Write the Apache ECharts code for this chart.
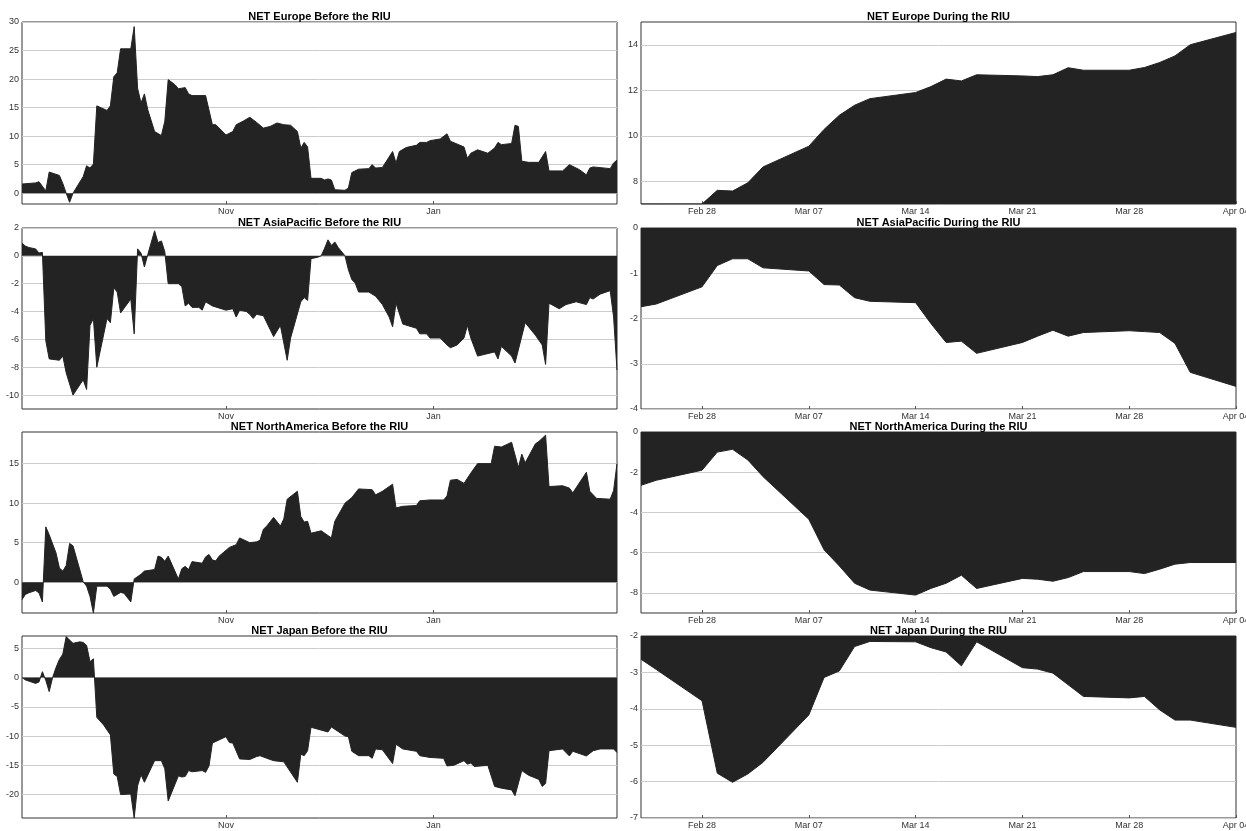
<!DOCTYPE html>
<html><head><meta charset="utf-8">
<script src="https://cdn.jsdelivr.net/npm/echarts@6/dist/echarts.min.js"></script>
<style>html,body{margin:0;padding:0;background:#fff}#c{width:1246px;height:831px}</style>
</head><body><div id="c"></div>
<script>
// ---------- data ----------
const beforeRange = ['2021-09-02', '2022-02-24'];
const duringRange = ['2022-02-24', '2022-04-04'];
const beforeTickDates = ['2021-11-01', '2022-01-01'];
const beforeTickLabels = ['Nov', 'Jan'];
const duringTickDates = ['2022-02-28','2022-03-07','2022-03-14','2022-03-21','2022-03-28','2022-04-04'];
const duringTickLabels = ['Feb 28','Mar 07','Mar 14','Mar 21','Mar 28','Apr 04'];

const europeBefore = [['2021-09-02',1.6],['2021-09-06',1.8],['2021-09-07',2.0],['2021-09-08',1.2],['2021-09-09',0.4],['2021-09-10',3.7],['2021-09-13',3.1],['2021-09-14',1.7],['2021-09-15',0.0],['2021-09-16',-1.6],['2021-09-17',0.0],['2021-09-20',2.9],['2021-09-21',4.8],['2021-09-22',4.4],['2021-09-23',5.1],['2021-09-24',15.3],['2021-09-27',14.5],['2021-09-28',15.3],['2021-09-29',20.4],['2021-09-30',21.1],['2021-10-01',25.3],['2021-10-04',25.3],['2021-10-05',29.2],['2021-10-06',18.4],['2021-10-07',15.8],['2021-10-08',17.4],['2021-10-09',14.6],['2021-10-11',10.8],['2021-10-13',10.1],['2021-10-14',12.6],['2021-10-15',19.9],['2021-10-17',19.0],['2021-10-18',18.3],['2021-10-19',18.4],['2021-10-20',18.5],['2021-10-21',17.4],['2021-10-22',17.1],['2021-10-26',17.1],['2021-10-28',12.0],['2021-10-29',12.0],['2021-11-01',10.2],['2021-11-02',10.5],['2021-11-03',10.8],['2021-11-04',12.0],['2021-11-06',12.6],['2021-11-08',13.3],['2021-11-10',12.4],['2021-11-12',11.4],['2021-11-14',11.7],['2021-11-16',12.3],['2021-11-18',12.0],['2021-11-20',11.9],['2021-11-22',10.8],['2021-11-23',7.9],['2021-11-24',8.9],['2021-11-25',8.1],['2021-11-26',2.6],['2021-11-29',2.6],['2021-11-30',2.3],['2021-12-01',2.5],['2021-12-02',2.3],['2021-12-03',0.6],['2021-12-06',0.5],['2021-12-07',0.9],['2021-12-08',3.6],['2021-12-10',4.2],['2021-12-13',4.3],['2021-12-14',5.0],['2021-12-15',4.4],['2021-12-17',4.5],['2021-12-20',7.3],['2021-12-21',5.3],['2021-12-22',7.3],['2021-12-24',8.0],['2021-12-27',8.4],['2021-12-28',8.9],['2021-12-30',8.9],['2021-12-31',9.2],['2022-01-03',9.5],['2022-01-05',10.4],['2022-01-06',9.1],['2022-01-10',8.1],['2022-01-11',6.1],['2022-01-12',7.0],['2022-01-14',7.6],['2022-01-17',7.0],['2022-01-19',7.9],['2022-01-20',8.9],['2022-01-21',8.5],['2022-01-24',8.7],['2022-01-25',11.9],['2022-01-26',11.7],['2022-01-27',5.6],['2022-01-29',5.4],['2022-02-01',5.4],['2022-02-03',7.3],['2022-02-04',3.9],['2022-02-08',3.9],['2022-02-10',5.0],['2022-02-13',4.1],['2022-02-15',3.2],['2022-02-16',4.4],['2022-02-17',4.6],['2022-02-22',4.3],['2022-02-23',5.3],['2022-02-24',5.8]];

const asiaBefore = [['2021-09-02',0.9],['2021-09-03',0.7],['2021-09-04',0.6],['2021-09-06',0.5],['2021-09-07',0.2],['2021-09-08',0.25],['2021-09-09',-6.1],['2021-09-10',-7.4],['2021-09-13',-7.5],['2021-09-14',-7.2],['2021-09-15',-8.4],['2021-09-17',-10.0],['2021-09-20',-8.9],['2021-09-21',-9.6],['2021-09-22',-5.0],['2021-09-23',-4.5],['2021-09-24',-8.0],['2021-09-27',-4.5],['2021-09-28',-4.8],['2021-09-29',-2.3],['2021-09-30',-2.6],['2021-10-01',-4.1],['2021-10-04',-3.1],['2021-10-05',-5.6],['2021-10-06',0.5],['2021-10-07',0.2],['2021-10-08',-0.8],['2021-10-09',0.1],['2021-10-11',1.8],['2021-10-12',0.95],['2021-10-13',1.07],['2021-10-14',0.3],['2021-10-15',-2.0],['2021-10-18',-2.0],['2021-10-19',-2.2],['2021-10-20',-3.6],['2021-10-21',-3.4],['2021-10-22',-3.7],['2021-10-24',-3.7],['2021-10-25',-3.9],['2021-10-26',-3.3],['2021-10-28',-3.6],['2021-11-01',-3.9],['2021-11-03',-3.8],['2021-11-04',-4.4],['2021-11-05',-3.9],['2021-11-07',-4.0],['2021-11-08',-4.2],['2021-11-09',-4.5],['2021-11-10',-4.2],['2021-11-12',-4.3],['2021-11-15',-5.8],['2021-11-17',-5.0],['2021-11-19',-7.5],['2021-11-20',-5.9],['2021-11-23',-3.3],['2021-11-24',-3.0],['2021-11-25',-3.2],['2021-11-26',-0.2],['2021-11-28',-0.1],['2021-11-29',0.0],['2021-11-30',0.55],['2021-12-01',1.15],['2021-12-02',0.75],['2021-12-03',1.0],['2021-12-04',0.6],['2021-12-06',0.0],['2021-12-07',-1.0],['2021-12-08',-1.7],['2021-12-09',-1.95],['2021-12-10',-2.6],['2021-12-13',-2.6],['2021-12-15',-2.9],['2021-12-17',-3.5],['2021-12-19',-4.4],['2021-12-20',-5.1],['2021-12-21',-3.4],['2021-12-23',-4.9],['2021-12-27',-5.2],['2021-12-28',-5.6],['2021-12-30',-5.6],['2021-12-31',-5.9],['2022-01-03',-5.9],['2022-01-05',-6.4],['2022-01-06',-6.6],['2022-01-08',-6.4],['2022-01-10',-5.9],['2022-01-11',-5.0],['2022-01-12',-5.9],['2022-01-14',-7.2],['2022-01-19',-6.9],['2022-01-20',-7.4],['2022-01-21',-6.5],['2022-01-24',-7.2],['2022-01-25',-7.7],['2022-01-28',-4.8],['2022-01-31',-5.7],['2022-02-02',-6.4],['2022-02-03',-7.8],['2022-02-04',-3.4],['2022-02-07',-3.8],['2022-02-09',-3.5],['2022-02-12',-3.3],['2022-02-15',-3.5],['2022-02-16',-3.0],['2022-02-17',-3.1],['2022-02-19',-2.75],['2022-02-22',-2.5],['2022-02-23',-4.4],['2022-02-24',-8.2]];

const northAmericaBefore = [['2021-09-02',-2.2],['2021-09-03',-1.55],['2021-09-04',-1.35],['2021-09-06',-1.05],['2021-09-07',-1.35],['2021-09-08',-2.5],['2021-09-09',7.0],['2021-09-10',6.0],['2021-09-12',3.7],['2021-09-13',1.8],['2021-09-14',1.4],['2021-09-15',2.1],['2021-09-16',4.9],['2021-09-17',4.6],['2021-09-20',0.05],['2021-09-21',-0.5],['2021-09-22',-1.8],['2021-09-23',-3.9],['2021-09-24',-0.5],['2021-09-27',-0.5],['2021-09-28',-0.9],['2021-09-29',-1.8],['2021-10-01',-1.3],['2021-10-02',-1.4],['2021-10-04',-2.5],['2021-10-05',0.4],['2021-10-07',1.0],['2021-10-08',1.4],['2021-10-11',1.6],['2021-10-12',3.3],['2021-10-13',3.15],['2021-10-14',2.65],['2021-10-15',3.3],['2021-10-18',0.4],['2021-10-19',1.7],['2021-10-20',2.0],['2021-10-21',1.6],['2021-10-22',2.6],['2021-10-25',2.4],['2021-10-26',3.2],['2021-10-27',3.5],['2021-10-28',2.8],['2021-10-29',2.7],['2021-10-30',3.3],['2021-11-02',4.4],['2021-11-04',4.75],['2021-11-05',5.6],['2021-11-08',5.0],['2021-11-10',5.1],['2021-11-11',5.3],['2021-11-12',6.7],['2021-11-13',7.1],['2021-11-15',8.2],['2021-11-17',7.1],['2021-11-18',8.0],['2021-11-19',10.5],['2021-11-22',11.5],['2021-11-23',8.3],['2021-11-24',7.6],['2021-11-25',7.7],['2021-11-26',6.2],['2021-11-29',6.5],['2021-12-02',5.6],['2021-12-03',7.7],['2021-12-06',10.0],['2021-12-08',10.7],['2021-12-10',11.8],['2021-12-14',11.7],['2021-12-15',11.05],['2021-12-17',11.5],['2021-12-20',12.4],['2021-12-21',9.4],['2021-12-23',9.6],['2021-12-27',9.7],['2021-12-28',10.3],['2021-12-31',10.4],['2022-01-04',10.4],['2022-01-05',10.9],['2022-01-06',12.9],['2022-01-08',13.0],['2022-01-10',12.5],['2022-01-12',13.8],['2022-01-14',15.0],['2022-01-18',15.0],['2022-01-19',17.2],['2022-01-21',17.1],['2022-01-24',17.7],['2022-01-26',14.5],['2022-01-27',16.2],['2022-01-28',15.1],['2022-01-31',17.5],['2022-02-01',17.8],['2022-02-03',18.6],['2022-02-04',12.1],['2022-02-08',12.2],['2022-02-10',11.9],['2022-02-11',11.3],['2022-02-15',13.9],['2022-02-16',11.5],['2022-02-18',10.6],['2022-02-22',10.5],['2022-02-23',11.6],['2022-02-24',15.0]];

const japanBefore = [['2021-09-02',0.0],['2021-09-03',-0.4],['2021-09-06',-1.0],['2021-09-07',-0.75],['2021-09-08',1.0],['2021-09-09',-0.5],['2021-09-10',-2.4],['2021-09-11',0.0],['2021-09-12',1.7],['2021-09-13',3.1],['2021-09-14',4.0],['2021-09-15',7.0],['2021-09-16',6.4],['2021-09-17',5.85],['2021-09-19',6.1],['2021-09-20',6.0],['2021-09-21',5.5],['2021-09-22',2.7],['2021-09-23',3.2],['2021-09-24',-6.8],['2021-09-26',-8.1],['2021-09-28',-9.8],['2021-09-29',-16.5],['2021-09-30',-16.9],['2021-10-01',-20.0],['2021-10-04',-19.9],['2021-10-05',-24.0],['2021-10-06',-18.5],['2021-10-07',-16.6],['2021-10-08',-17.9],['2021-10-11',-14.2],['2021-10-13',-14.2],['2021-10-14',-15.6],['2021-10-15',-21.1],['2021-10-18',-16.8],['2021-10-19',-17.0],['2021-10-20',-16.9],['2021-10-21',-15.9],['2021-10-22',-16.1],['2021-10-25',-15.9],['2021-10-26',-16.2],['2021-10-27',-15.1],['2021-10-28',-11.2],['2021-11-01',-10.1],['2021-11-02',-11.1],['2021-11-03',-11.2],['2021-11-05',-13.9],['2021-11-08',-14.0],['2021-11-10',-13.5],['2021-11-11',-13.35],['2021-11-13',-13.8],['2021-11-15',-14.2],['2021-11-18',-14.4],['2021-11-22',-17.9],['2021-11-23',-13.1],['2021-11-24',-13.35],['2021-11-25',-12.5],['2021-11-26',-8.5],['2021-12-01',-9.3],['2021-12-02',-8.45],['2021-12-06',-10.0],['2021-12-07',-10.1],['2021-12-08',-12.6],['2021-12-10',-13.35],['2021-12-13',-13.35],['2021-12-14',-13.8],['2021-12-15',-12.2],['2021-12-17',-12.35],['2021-12-20',-14.7],['2021-12-21',-11.4],['2021-12-23',-12.2],['2021-12-27',-12.6],['2021-12-28',-13.35],['2021-12-31',-13.65],['2022-01-04',-13.8],['2022-01-05',-15.1],['2022-01-07',-15.0],['2022-01-10',-14.2],['2022-01-11',-14.8],['2022-01-12',-14.6],['2022-01-13',-15.2],['2022-01-15',-15.1],['2022-01-17',-15.0],['2022-01-19',-18.6],['2022-01-21',-18.9],['2022-01-24',-19.2],['2022-01-25',-20.2],['2022-01-27',-15.9],['2022-01-29',-16.7],['2022-02-01',-17.4],['2022-02-02',-18.6],['2022-02-03',-18.1],['2022-02-04',-12.5],['2022-02-08',-12.2],['2022-02-10',-13.4],['2022-02-11',-12.6],['2022-02-15',-13.4],['2022-02-17',-12.5],['2022-02-19',-12.2],['2022-02-23',-12.2],['2022-02-24',-12.8]];

const duringDates = ['2022-02-24','2022-02-25','2022-02-28','2022-03-01','2022-03-02','2022-03-03','2022-03-04','2022-03-07','2022-03-08','2022-03-09','2022-03-10','2022-03-11','2022-03-14','2022-03-15','2022-03-16','2022-03-17','2022-03-18','2022-03-21','2022-03-22','2022-03-23','2022-03-24','2022-03-25','2022-03-28','2022-03-29','2022-03-30','2022-03-31','2022-04-01','2022-04-04'];
const europeDuring = [7.0,7.0,7.0,7.6,7.57,7.93,8.63,9.54,10.28,10.9,11.34,11.63,11.9,12.16,12.49,12.41,12.68,12.63,12.6,12.68,12.99,12.88,12.88,13.0,13.22,13.51,14.0,14.54];
const asiaDuring = [-1.74,-1.68,-1.30,-0.83,-0.68,-0.68,-0.88,-0.95,-1.25,-1.26,-1.54,-1.62,-1.65,-2.11,-2.53,-2.5,-2.77,-2.53,-2.39,-2.26,-2.39,-2.31,-2.27,-2.29,-2.31,-2.55,-3.19,-3.5];
const northAmericaDuring = [-2.65,-2.4,-1.9,-1.0,-0.86,-1.39,-2.22,-4.34,-5.86,-6.66,-7.52,-7.86,-8.11,-7.78,-7.52,-7.12,-7.78,-7.28,-7.32,-7.42,-7.24,-6.94,-6.94,-7.04,-6.82,-6.57,-6.49,-6.49];
const japanDuring = [-2.64,-2.92,-3.78,-5.77,-6.02,-5.79,-5.47,-4.17,-3.14,-2.96,-2.29,-2.15,-2.16,-2.32,-2.44,-2.82,-2.16,-2.87,-2.91,-3.02,-3.34,-3.66,-3.70,-3.66,-4.03,-4.31,-4.31,-4.51];

const panels = [
  {title:'NET Europe Before the RIU', before:true, pairs:europeBefore, yMin:-1.9, yMax:30, yTicks:[0,5,10,15,20,25,30]},
  {title:'NET Europe During the RIU', before:false, values:europeDuring, yMin:7, yMax:15, yTicks:[8,10,12,14]},
  {title:'NET AsiaPacific Before the RIU', before:true, pairs:asiaBefore, yMin:-11, yMax:2, yTicks:[-10,-8,-6,-4,-2,0,2]},
  {title:'NET AsiaPacific During the RIU', before:false, values:asiaDuring, yMin:-4, yMax:0, yTicks:[-4,-3,-2,-1,0]},
  {title:'NET NorthAmerica Before the RIU', before:true, pairs:northAmericaBefore, yMin:-3.9, yMax:19, yTicks:[0,5,10,15]},
  {title:'NET NorthAmerica During the RIU', before:false, values:northAmericaDuring, yMin:-9, yMax:0, yTicks:[-8,-6,-4,-2,0]},
  {title:'NET Japan Before the RIU', before:true, pairs:japanBefore, yMin:-24, yMax:7.1, yTicks:[-20,-15,-10,-5,0,5]},
  {title:'NET Japan During the RIU', before:false, values:japanDuring, yMin:-7, yMax:-2, yTicks:[-7,-6,-5,-4,-3,-2]}
];

// ---------- layout ----------
const rows = [{top:22,height:182},{top:228,height:181},{top:432,height:181},{top:636,height:182}];
const cols = [{left:22,width:595},{left:641,width:595}];
const FONT = '"Liberation Sans", Arial, Helvetica, sans-serif';
const FILL = '#232323';

const ts = s => { const p = s.split('-').map(Number); return Date.UTC(p[0], p[1]-1, p[2]); };

const grid = [], xAxis = [], yAxis = [], series = [], graphic = [];
panels.forEach((p, i) => {
  const r = rows[Math.floor(i/2)], c = cols[i%2];
  grid.push({left:c.left, top:r.top, width:c.width, height:r.height, show:true, borderColor:'#333', borderWidth:1,
             containLabel:false, outerBoundsMode:'none'});
  const tickDates = p.before ? beforeTickDates : duringTickDates;
  const tickLabels = p.before ? beforeTickLabels : duringTickLabels;
  const tickVals = tickDates.map(ts);
  const range = p.before ? beforeRange : duringRange;
  xAxis.push({type:'value', gridIndex:i, position:'bottom', min:ts(range[0]), max:ts(range[1]), scale:true,
    axisLine:{show:false, onZero:false},
    axisTick:{show:true, inside:true, length:3, customValues:tickVals, lineStyle:{color:'#555', width:1}},
    axisLabel:{customValues:tickVals, fontSize:9, color:'#333', margin:3, fontFamily:FONT,
      formatter:(v) => { const k = tickVals.indexOf(v); return k >= 0 ? tickLabels[k] : ''; }},
    splitLine:{show:false}});
  yAxis.push({type:'value', gridIndex:i, min:p.yMin, max:p.yMax,
    axisLine:{show:false, onZero:false},
    axisTick:{show:false, customValues:p.yTicks},
    axisLabel:{customValues:p.yTicks, fontSize:9, color:'#333', margin:3, fontFamily:FONT},
    splitLine:{show:true, lineStyle:{color:'#cccccc', width:1}}});
  const data = p.before ? p.pairs.map(d => [ts(d[0]), d[1]]) : duringDates.map((d, j) => [ts(d), p.values[j]]);
  series.push({type:'line', xAxisIndex:i, yAxisIndex:i, data, symbol:'none', showSymbol:false,
    lineStyle:{color:FILL, width:1}, areaStyle:{color:FILL, opacity:1}, silent:true, clip:true});
  graphic.push({type:'text', x:c.left + c.width/2, y:r.top - 5,
    style:{text:p.title, fontSize:11, fontWeight:'bold', fontFamily:FONT, fill:'#000', align:'center', verticalAlign:'middle'}});
});

const chart = echarts.init(document.getElementById('c'), null, {renderer:'canvas'});
chart.setOption({animation:false, backgroundColor:'#fff', textStyle:{fontFamily:FONT}, grid, xAxis, yAxis, series, graphic});
</script></body></html>
